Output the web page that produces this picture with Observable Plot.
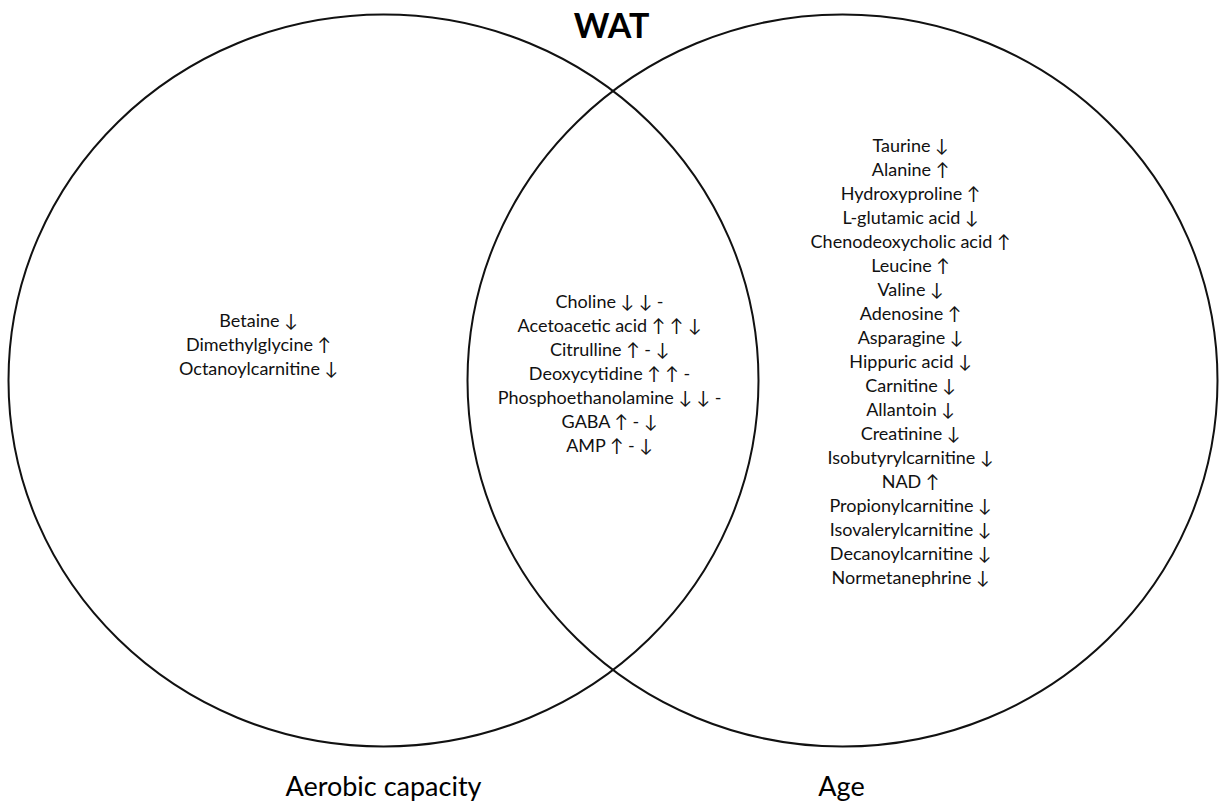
<!DOCTYPE html>
<html>
<head>
<meta charset="utf-8">
<script src="https://cdn.jsdelivr.net/npm/d3@7"></script>
<script src="https://cdn.jsdelivr.net/npm/@observablehq/plot@0.6"></script>
<style>
  html, body { margin: 0; padding: 0; background: #fff; }
  #chart svg { display: block; }
</style>
</head>
<body>
<div id="chart"></div>
<script>
// ---- data ----
const title = "WAT";
const setNames = ["Aerobic capacity", "Age"];
const aerobicOnly = ["Betaine ↓", "Dimethylglycine ↑", "Octanoylcarnitine ↓"];
const shared = [
  "Choline ↓ ↓ -",
  "Acetoacetic acid ↑ ↑ ↓",
  "Citrulline ↑ - ↓",
  "Deoxycytidine ↑ ↑ -",
  "Phosphoethanolamine ↓ ↓ -",
  "GABA ↑ - ↓",
  "AMP ↑ - ↓"
];
const ageOnly = [
  "Taurine ↓", "Alanine ↑", "Hydroxyproline ↑", "L-glutamic acid ↓",
  "Chenodeoxycholic acid ↑", "Leucine ↑", "Valine ↓", "Adenosine ↑",
  "Asparagine ↓", "Hippuric acid ↓", "Carnitine ↓", "Allantoin ↓",
  "Creatinine ↓", "Isobutyrylcarnitine ↓", "NAD ↑", "Propionylcarnitine ↓",
  "Isovalerylcarnitine ↓", "Decanoylcarnitine ↓", "Normetanephrine ↓"
];

// ---- layout (pixel space) ----
const W = 1219, H = 803;
const circles = [
  {set: setNames[0], cx: 383, cy: 380},
  {set: setNames[1], cx: 842, cy: 380}
];
const R = 375;          // horizontal radius
const aspect = 366 / 375; // slight vertical squash of the set outlines
const regions = [
  {members: aerobicOnly, x: 258, y: 343},
  {members: shared, x: 609, y: 371.5},
  {members: ageOnly, x: 910, y: 359.5}
];
const setLabels = [
  {label: setNames[0], x: 383, y: 787},
  {label: setNames[1], x: 841, y: 787}
];
const font = "Lato, 'Open Sans', sans-serif";

// elliptical outline symbol for the set shapes
const K = 0.5522848;
const ellipseSymbol = {
  draw(ctx, size) {
    const rx = Math.sqrt(size / Math.PI), ry = rx * aspect;
    ctx.moveTo(rx, 0);
    ctx.bezierCurveTo(rx, K * ry, K * rx, ry, 0, ry);
    ctx.bezierCurveTo(-K * rx, ry, -rx, K * ry, -rx, 0);
    ctx.bezierCurveTo(-rx, -K * ry, -K * rx, -ry, 0, -ry);
    ctx.bezierCurveTo(K * rx, -ry, rx, -K * ry, rx, 0);
    ctx.closePath();
  }
};

const chart = Plot.plot({
  width: W,
  height: H,
  margin: 0,
  x: {domain: [0, W], range: [0, W], axis: null},
  y: {domain: [0, H], range: [0, H], axis: null},
  style: {fontFamily: font, background: "#fff"},
  marks: [
    Plot.dot(circles, {x: "cx", y: "cy", r: R, symbol: ellipseSymbol, stroke: "#111", strokeWidth: 2, fill: "none"}),
    Plot.text(regions, {
      x: "x", y: "y",
      text: d => d.members.join("\n"),
      lineHeight: 24 / 18,
      fontSize: 18,
      fill: "#111",
      textAnchor: "middle",
      lineAnchor: "middle"
    }),
    Plot.text(setLabels, {x: "x", y: "y", text: "label", fontSize: 27, fill: "#000", lineAnchor: "middle"}),
    Plot.text([title], {x: () => 611, y: () => 27, text: d => d, fontSize: 34, fontWeight: "bold", fill: "#000", lineAnchor: "middle"})
  ]
});
document.getElementById("chart").appendChild(chart);
</script>
</body>
</html>
